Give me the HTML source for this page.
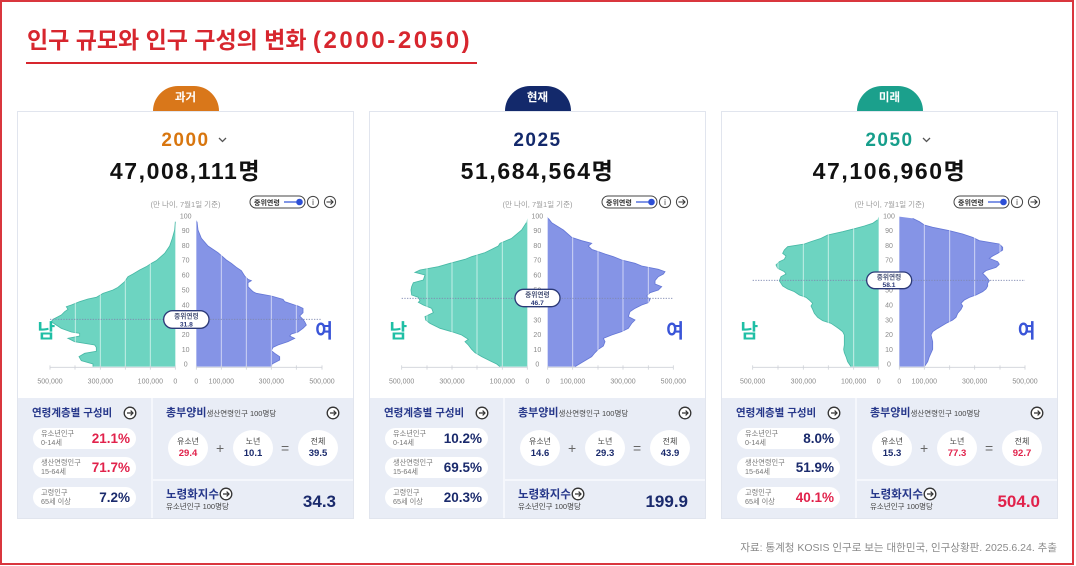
<!DOCTYPE html>
<html lang="ko">
<head>
<meta charset="utf-8">
<style>
*{margin:0;padding:0;box-sizing:border-box}
html,body{width:1076px;height:566px;overflow:hidden;background:#fff}
body{position:relative;font-family:"Liberation Sans","Noto Sans CJK KR",sans-serif;color:#222}
.a{position:absolute}
.frame{left:0;top:0;width:1074px;height:565px;border:2px solid #d9363e}
.title{left:27px;top:29px;font-size:23px;line-height:23px;font-weight:bold;color:#d7262e;white-space:nowrap}
.title span{font-size:24px;letter-spacing:2.6px}
.uline{left:26px;top:62px;width:451px;height:2px;background:#d7262e}
.c{position:absolute;top:0;width:337px;height:566px}
.box{left:0;top:111px;width:337px;height:408px;border:1px solid #e1e5ee;background:#fff}
.panel{left:1px;top:398px;width:335px;height:120px;background:#e9edf6}
.vsep{left:134px;top:398px;width:2px;height:120px;background:#f5f7fc}
.hsep{left:136px;top:479px;width:200px;height:2px;background:#f5f7fc}
.badge{left:135.5px;top:86px;width:66px;height:25px;border-radius:33px 33px 0 0;color:#fff;font-size:11.5px;font-weight:bold;text-align:center;line-height:25px}
.year{left:0;width:337px;top:131px;text-align:center;font-size:19px;line-height:19px;font-weight:bold;letter-spacing:1.5px}
.big{left:0;width:337px;top:160px;text-align:center;font-size:23px;line-height:23px;font-weight:bold;letter-spacing:1.6px;color:#111}
.sub{left:0;width:337px;top:201px;text-align:center;font-size:7.5px;line-height:8px;color:#9a9a9a}
.h1{left:15px;top:408px;font-size:10.5px;line-height:11px;font-weight:bold;color:#26378a;white-space:nowrap}
.pill{left:16px;width:103px;height:21px;border-radius:11px;background:#fff;display:flex;align-items:center;justify-content:space-between;padding:0 6px 0 8px}
.pl{font-size:7.2px;line-height:8.5px;color:#777;white-space:nowrap}
.pv{font-size:13.5px;font-weight:bold;line-height:14px;white-space:nowrap}
.red{color:#e1224b}
.nav{color:#1a2a6c}
.h2{left:149px;top:408px;font-size:11px;line-height:11px;font-weight:bold;color:#26378a;white-space:nowrap}
.h2 small{font-size:7.5px;font-weight:normal;color:#444}
.circ{top:430px;width:40px;height:36px;border-radius:50%;background:#fff;text-align:center}
.cl{display:block;font-size:8px;line-height:9px;color:#444;margin-top:7px}
.cv{display:block;font-size:9.5px;line-height:11px;font-weight:bold;margin-top:2px}
.op{top:441px;font-size:14px;line-height:14px;color:#666}
.h3{left:149px;top:488.5px;font-size:11.5px;line-height:12px;font-weight:bold;color:#26378a;white-space:nowrap}
.h3s{left:149px;top:502.5px;font-size:7.5px;line-height:8px;color:#444;white-space:nowrap}
.val{right:18px;top:492.5px;font-size:17px;line-height:17px;font-weight:bold;text-align:right}
.src{right:19px;top:543px;font-size:10.5px;line-height:11px;color:#8a8a8a;white-space:nowrap}
svg text{font-family:"Liberation Sans","Noto Sans CJK KR",sans-serif}
</style>
</head>
<body>
<div class="a frame"></div>
<div class="a title">인구 규모와 인구 구성의 변화 <span>(2000-2050)</span></div>
<div class="a uline"></div>

<!-- ============ CARD 1 ============ -->
<div class="c" style="left:17px">
  <div class="a box"></div>
  <div class="a badge" style="background:#d9771a">과거</div>
  <div class="a year" style="color:#d8760f">2000</div>
  <svg class="a" style="left:201px;top:137px" width="9" height="6" viewBox="0 0 9 6"><polyline points="1,1 4.5,4.5 8,1" fill="none" stroke="#555" stroke-width="1.3"/></svg>
  <div class="a big">47,008,111명</div>
  <div class="a sub">(만 나이, 7월1일 기준)</div>
  <svg class="a" style="left:232px;top:195px" width="90" height="14" viewBox="0 0 90 14">
    <rect x="1" y="1" width="55" height="12" rx="6" fill="#fff" stroke="#444" stroke-width="1"/>
    <text x="5" y="10" font-size="7" font-weight="bold" fill="#333">중위연령</text>
    <line x1="35" y1="7" x2="49" y2="7" stroke="#2d4fd6" stroke-width="1.2"/>
    <circle cx="50.5" cy="7" r="3.3" fill="#2d4fd6"/>
    <circle cx="64" cy="7" r="5.6" fill="#fff" stroke="#444" stroke-width="1"/>
    <text x="64" y="10" font-size="8" text-anchor="middle" fill="#333">i</text>
    <circle cx="81" cy="7" r="5.6" fill="#fff" stroke="#444" stroke-width="1"/>
    <path d="M77.5 7 H84 M81.5 4.5 L84 7 L81.5 9.5" fill="none" stroke="#333" stroke-width="1.1"/>
  </svg>
  <div class="a panel"></div>
  <div class="a vsep"></div>
  <div class="a hsep"></div>
  <div class="a h1">연령계층별 구성비</div>
  <svg class="a" style="left:106px;top:406px" width="14" height="14" viewBox="0 0 14 14"><circle cx="7" cy="7" r="5.8" fill="#fff" stroke="#333" stroke-width="1.3"/><path d="M4 7 H10 M7.6 4.6 L10 7 L7.6 9.4" fill="none" stroke="#333" stroke-width="1.2"/></svg>
  <div class="a pill" style="top:428px"><div class="pl">유소년인구<br>0-14세</div><div class="pv red">21.1%</div></div>
  <div class="a pill" style="top:457px"><div class="pl">생산연령인구<br>15-64세</div><div class="pv red">71.7%</div></div>
  <div class="a pill" style="top:487px"><div class="pl">고령인구<br>65세 이상</div><div class="pv nav">7.2%</div></div>
  <div class="a h2">총부양비<small>생산연령인구 100명당</small></div>
  <svg class="a" style="left:309px;top:406px" width="14" height="14" viewBox="0 0 14 14"><circle cx="7" cy="7" r="5.8" fill="#fff" stroke="#333" stroke-width="1.3"/><path d="M4 7 H10 M7.6 4.6 L10 7 L7.6 9.4" fill="none" stroke="#333" stroke-width="1.2"/></svg>
  <div class="a circ" style="left:151px"><span class="cl">유소년</span><span class="cv red">29.4</span></div>
  <div class="a op" style="left:199px">+</div>
  <div class="a circ" style="left:216px"><span class="cl">노년</span><span class="cv nav">10.1</span></div>
  <div class="a op" style="left:264px">=</div>
  <div class="a circ" style="left:281px"><span class="cl">전체</span><span class="cv nav">39.5</span></div>
  <div class="a h3">노령화지수</div>
  <svg class="a" style="left:202px;top:487px" width="14" height="14" viewBox="0 0 14 14"><circle cx="7" cy="7" r="5.8" fill="#fff" stroke="#333" stroke-width="1.3"/><path d="M4 7 H10 M7.6 4.6 L10 7 L7.6 9.4" fill="none" stroke="#333" stroke-width="1.2"/></svg>
  <div class="a h3s">유소년인구 100명당</div>
  <div class="a val nav">34.3</div>
</div>

<!-- ============ CARD 2 ============ -->
<div class="c" style="left:369px">
  <div class="a box"></div>
  <div class="a badge" style="background:#13296b">현재</div>
  <div class="a year" style="color:#13296b">2025</div>
  <div class="a big">51,684,564명</div>
  <div class="a sub">(만 나이, 7월1일 기준)</div>
  <svg class="a" style="left:232px;top:195px" width="90" height="14" viewBox="0 0 90 14">
    <rect x="1" y="1" width="55" height="12" rx="6" fill="#fff" stroke="#444" stroke-width="1"/>
    <text x="5" y="10" font-size="7" font-weight="bold" fill="#333">중위연령</text>
    <line x1="35" y1="7" x2="49" y2="7" stroke="#2d4fd6" stroke-width="1.2"/>
    <circle cx="50.5" cy="7" r="3.3" fill="#2d4fd6"/>
    <circle cx="64" cy="7" r="5.6" fill="#fff" stroke="#444" stroke-width="1"/>
    <text x="64" y="10" font-size="8" text-anchor="middle" fill="#333">i</text>
    <circle cx="81" cy="7" r="5.6" fill="#fff" stroke="#444" stroke-width="1"/>
    <path d="M77.5 7 H84 M81.5 4.5 L84 7 L81.5 9.5" fill="none" stroke="#333" stroke-width="1.1"/>
  </svg>
  <div class="a panel"></div>
  <div class="a vsep"></div>
  <div class="a hsep"></div>
  <div class="a h1">연령계층별 구성비</div>
  <svg class="a" style="left:106px;top:406px" width="14" height="14" viewBox="0 0 14 14"><circle cx="7" cy="7" r="5.8" fill="#fff" stroke="#333" stroke-width="1.3"/><path d="M4 7 H10 M7.6 4.6 L10 7 L7.6 9.4" fill="none" stroke="#333" stroke-width="1.2"/></svg>
  <div class="a pill" style="top:428px"><div class="pl">유소년인구<br>0-14세</div><div class="pv nav">10.2%</div></div>
  <div class="a pill" style="top:457px"><div class="pl">생산연령인구<br>15-64세</div><div class="pv nav">69.5%</div></div>
  <div class="a pill" style="top:487px"><div class="pl">고령인구<br>65세 이상</div><div class="pv nav">20.3%</div></div>
  <div class="a h2">총부양비<small>생산연령인구 100명당</small></div>
  <svg class="a" style="left:309px;top:406px" width="14" height="14" viewBox="0 0 14 14"><circle cx="7" cy="7" r="5.8" fill="#fff" stroke="#333" stroke-width="1.3"/><path d="M4 7 H10 M7.6 4.6 L10 7 L7.6 9.4" fill="none" stroke="#333" stroke-width="1.2"/></svg>
  <div class="a circ" style="left:151px"><span class="cl">유소년</span><span class="cv nav">14.6</span></div>
  <div class="a op" style="left:199px">+</div>
  <div class="a circ" style="left:216px"><span class="cl">노년</span><span class="cv nav">29.3</span></div>
  <div class="a op" style="left:264px">=</div>
  <div class="a circ" style="left:281px"><span class="cl">전체</span><span class="cv nav">43.9</span></div>
  <div class="a h3">노령화지수</div>
  <svg class="a" style="left:202px;top:487px" width="14" height="14" viewBox="0 0 14 14"><circle cx="7" cy="7" r="5.8" fill="#fff" stroke="#333" stroke-width="1.3"/><path d="M4 7 H10 M7.6 4.6 L10 7 L7.6 9.4" fill="none" stroke="#333" stroke-width="1.2"/></svg>
  <div class="a h3s">유소년인구 100명당</div>
  <div class="a val nav">199.9</div>
</div>

<!-- ============ CARD 3 ============ -->
<div class="c" style="left:721px">
  <div class="a box"></div>
  <div class="a badge" style="background:#1ba08c">미래</div>
  <div class="a year" style="color:#169e8b">2050</div>
  <svg class="a" style="left:201px;top:137px" width="9" height="6" viewBox="0 0 9 6"><polyline points="1,1 4.5,4.5 8,1" fill="none" stroke="#555" stroke-width="1.3"/></svg>
  <div class="a big">47,106,960명</div>
  <div class="a sub">(만 나이, 7월1일 기준)</div>
  <svg class="a" style="left:232px;top:195px" width="90" height="14" viewBox="0 0 90 14">
    <rect x="1" y="1" width="55" height="12" rx="6" fill="#fff" stroke="#444" stroke-width="1"/>
    <text x="5" y="10" font-size="7" font-weight="bold" fill="#333">중위연령</text>
    <line x1="35" y1="7" x2="49" y2="7" stroke="#2d4fd6" stroke-width="1.2"/>
    <circle cx="50.5" cy="7" r="3.3" fill="#2d4fd6"/>
    <circle cx="64" cy="7" r="5.6" fill="#fff" stroke="#444" stroke-width="1"/>
    <text x="64" y="10" font-size="8" text-anchor="middle" fill="#333">i</text>
    <circle cx="81" cy="7" r="5.6" fill="#fff" stroke="#444" stroke-width="1"/>
    <path d="M77.5 7 H84 M81.5 4.5 L84 7 L81.5 9.5" fill="none" stroke="#333" stroke-width="1.1"/>
  </svg>
  <div class="a panel"></div>
  <div class="a vsep"></div>
  <div class="a hsep"></div>
  <div class="a h1">연령계층별 구성비</div>
  <svg class="a" style="left:106px;top:406px" width="14" height="14" viewBox="0 0 14 14"><circle cx="7" cy="7" r="5.8" fill="#fff" stroke="#333" stroke-width="1.3"/><path d="M4 7 H10 M7.6 4.6 L10 7 L7.6 9.4" fill="none" stroke="#333" stroke-width="1.2"/></svg>
  <div class="a pill" style="top:428px"><div class="pl">유소년인구<br>0-14세</div><div class="pv nav">8.0%</div></div>
  <div class="a pill" style="top:457px"><div class="pl">생산연령인구<br>15-64세</div><div class="pv nav">51.9%</div></div>
  <div class="a pill" style="top:487px"><div class="pl">고령인구<br>65세 이상</div><div class="pv red">40.1%</div></div>
  <div class="a h2">총부양비<small>생산연령인구 100명당</small></div>
  <svg class="a" style="left:309px;top:406px" width="14" height="14" viewBox="0 0 14 14"><circle cx="7" cy="7" r="5.8" fill="#fff" stroke="#333" stroke-width="1.3"/><path d="M4 7 H10 M7.6 4.6 L10 7 L7.6 9.4" fill="none" stroke="#333" stroke-width="1.2"/></svg>
  <div class="a circ" style="left:151px"><span class="cl">유소년</span><span class="cv nav">15.3</span></div>
  <div class="a op" style="left:199px">+</div>
  <div class="a circ" style="left:216px"><span class="cl">노년</span><span class="cv red">77.3</span></div>
  <div class="a op" style="left:264px">=</div>
  <div class="a circ" style="left:281px"><span class="cl">전체</span><span class="cv red">92.7</span></div>
  <div class="a h3">노령화지수</div>
  <svg class="a" style="left:202px;top:487px" width="14" height="14" viewBox="0 0 14 14"><circle cx="7" cy="7" r="5.8" fill="#fff" stroke="#333" stroke-width="1.3"/><path d="M4 7 H10 M7.6 4.6 L10 7 L7.6 9.4" fill="none" stroke="#333" stroke-width="1.2"/></svg>
  <div class="a h3s">유소년인구 100명당</div>
  <div class="a val red">504.0</div>
</div>

<!-- ============ PYRAMID 1 ============ -->
<svg class="a" style="left:18px;top:210px" width="340" height="190" viewBox="0 0 1020 570">
  <polygon fill="#6dd4c1" points="472,470 225,470 225,462 190,452 183,440 200,430 235,424 235,412 230,405 170,395 150,385 185,378 185,370 160,366 130,355 110,342 100,335 105,328 130,315 140,305 150,298 145,290 160,285 185,275 210,267 235,262 255,250 285,240 300,232 320,215 330,200 345,192 365,180 385,170 400,160 415,152 440,130 455,108 463,85 470,60 472,35 472,30"/>
  <polyline fill="none" stroke="#48b9a6" stroke-width="2.5" points="225,470 225,462 190,452 183,440 200,430 235,424 235,412 230,405 170,395 150,385 185,378 185,370 160,366 130,355 110,342 100,335 105,328 130,315 140,305 150,298 145,290 160,285 185,275 210,267 235,262 255,250 285,240 300,232 320,215 330,200 345,192 365,180 385,170 400,160 415,152 440,130 455,108 463,85 470,60 472,35"/>
  <polygon fill="#8594e6" points="535,470 760,470 762,462 785,450 785,440 770,430 760,422 765,412 780,405 810,395 830,385 815,378 820,372 840,366 855,355 865,345 860,335 855,328 845,318 855,308 855,295 840,288 830,285 800,275 795,268 760,258 715,250 705,245 700,240 690,230 690,218 700,212 690,208 680,198 670,182 655,172 640,160 625,150 600,128 570,108 550,85 540,60 537,35 535,30"/>
  <polyline fill="none" stroke="#6577d6" stroke-width="2.5" points="760,470 762,462 785,450 785,440 770,430 760,422 765,412 780,405 810,395 830,385 815,378 820,372 840,366 855,355 865,345 860,335 855,328 845,318 855,308 855,295 840,288 830,285 800,275 795,268 760,258 715,250 705,245 700,240 690,230 690,218 700,212 690,208 680,198 670,182 655,172 640,160 625,150 600,128 570,108 550,85 540,60 537,35"/>
  <g stroke="#fff" stroke-opacity="0.6" stroke-width="3">
    <line x1="397" y1="22" x2="397" y2="470"/><line x1="322" y1="22" x2="322" y2="470"/><line x1="247" y1="22" x2="247" y2="470"/><line x1="172" y1="22" x2="172" y2="470"/>
    <line x1="610" y1="22" x2="610" y2="470"/><line x1="685" y1="22" x2="685" y2="470"/><line x1="760" y1="22" x2="760" y2="470"/><line x1="835" y1="22" x2="835" y2="470"/>
  </g>
  <g stroke="#cfd2d8" stroke-width="2.5">
    <line x1="96" y1="472" x2="472" y2="472"/><line x1="535" y1="472" x2="912" y2="472"/>
    <line x1="96" y1="466" x2="96" y2="479"/><line x1="171" y1="466" x2="171" y2="479"/><line x1="247" y1="466" x2="247" y2="479"/><line x1="322" y1="466" x2="322" y2="479"/><line x1="397" y1="466" x2="397" y2="479"/><line x1="472" y1="466" x2="472" y2="479"/>
    <line x1="535" y1="466" x2="535" y2="479"/><line x1="610" y1="466" x2="610" y2="479"/><line x1="685" y1="466" x2="685" y2="479"/><line x1="760" y1="466" x2="760" y2="479"/><line x1="835" y1="466" x2="835" y2="479"/><line x1="912" y1="466" x2="912" y2="479"/>
  </g>
  <g font-size="21" fill="#8a8a8a" text-anchor="middle">
    <text x="96" y="521">500,000</text><text x="247" y="521">300,000</text><text x="397" y="521">100,000</text><text x="472" y="521">0</text>
    <text x="535" y="521">0</text><text x="610" y="521">100,000</text><text x="760" y="521">300,000</text><text x="912" y="521">500,000</text>
  </g>
  <g font-size="21" fill="#8a8a8a" text-anchor="middle">
    <text x="503" y="470">0</text><text x="503" y="426">10</text><text x="503" y="381">20</text><text x="503" y="337">30</text><text x="503" y="292">40</text><text x="503" y="247">50</text><text x="503" y="203">60</text><text x="503" y="158">70</text><text x="503" y="114">80</text><text x="503" y="69">90</text><text x="503" y="25">100</text>
  </g>
  <line x1="96" y1="328" x2="912" y2="328" stroke="#7f88b0" stroke-width="2.5" stroke-dasharray="4 4"/>
  <rect x="437" y="302" width="136" height="53" rx="26.5" fill="#fff" stroke="#2c3a78" stroke-width="4"/>
  <text x="505" y="326" font-size="20" font-weight="bold" fill="#4a5478" text-anchor="middle">중위연령</text>
  <text x="505" y="350" font-size="20" font-weight="bold" fill="#2c3a78" text-anchor="middle">31.8</text>
  <text x="85" y="382" font-size="58" font-weight="bold" fill="#1fbfa5" text-anchor="middle">남</text>
  <text x="918" y="382" font-size="58" font-weight="bold" fill="#3a55d8" text-anchor="middle">여</text>
</svg>

<!-- ============ PYRAMID 2 ============ -->
<svg class="a" style="left:365px;top:210px" width="345" height="190" viewBox="0 0 1035 570">
  <polygon fill="#6dd4c1" points="487,470 405,470 395,462 380,455 350,440 330,428 320,418 310,405 300,395 310,388 290,375 260,365 225,355 195,340 182,330 180,320 205,308 200,295 175,285 160,277 165,272 160,262 140,255 138,240 140,230 145,218 175,210 180,195 150,187 165,180 220,170 255,160 300,148 320,140 360,128 380,118 400,108 405,100 440,85 470,60 484,38 487,25"/>
  <polyline fill="none" stroke="#48b9a6" stroke-width="2.5" points="405,470 395,462 380,455 350,440 330,428 320,418 310,405 300,395 310,388 290,375 260,365 225,355 195,340 182,330 180,320 205,308 200,295 175,285 160,277 165,272 160,262 140,255 138,240 140,230 145,218 175,210 180,195 150,187 165,180 220,170 255,160 300,148 320,140 360,128 380,118 400,108 405,100 440,85 470,60 484,38"/>
  <polygon fill="#8594e6" points="548,470 630,470 650,458 680,440 690,428 700,418 715,408 720,395 715,385 740,375 770,365 790,355 800,340 810,330 790,320 795,305 810,295 830,285 850,278 855,268 845,258 855,248 880,240 890,230 870,222 870,212 880,200 895,192 900,185 880,178 830,168 810,160 770,150 745,140 720,132 700,125 680,118 670,108 680,100 650,92 620,82 595,60 560,38 550,25 548,20"/>
  <polyline fill="none" stroke="#6577d6" stroke-width="2.5" points="630,470 650,458 680,440 690,428 700,418 715,408 720,395 715,385 740,375 770,365 790,355 800,340 810,330 790,320 795,305 810,295 830,285 850,278 855,268 845,258 855,248 880,240 890,230 870,222 870,212 880,200 895,192 900,185 880,178 830,168 810,160 770,150 745,140 720,132 700,125 680,118 670,108 680,100 650,92 620,82 595,60 560,38 550,25"/>
  <g stroke="#fff" stroke-opacity="0.6" stroke-width="3">
    <line x1="412" y1="22" x2="412" y2="470"/><line x1="336" y1="22" x2="336" y2="470"/><line x1="261" y1="22" x2="261" y2="470"/><line x1="186" y1="22" x2="186" y2="470"/>
    <line x1="623" y1="22" x2="623" y2="470"/><line x1="699" y1="22" x2="699" y2="470"/><line x1="774" y1="22" x2="774" y2="470"/><line x1="850" y1="22" x2="850" y2="470"/>
  </g>
  <g stroke="#cfd2d8" stroke-width="2.5">
    <line x1="110" y1="472" x2="487" y2="472"/><line x1="548" y1="472" x2="925" y2="472"/>
    <line x1="110" y1="466" x2="110" y2="479"/><line x1="186" y1="466" x2="186" y2="479"/><line x1="261" y1="466" x2="261" y2="479"/><line x1="336" y1="466" x2="336" y2="479"/><line x1="412" y1="466" x2="412" y2="479"/><line x1="487" y1="466" x2="487" y2="479"/>
    <line x1="548" y1="466" x2="548" y2="479"/><line x1="623" y1="466" x2="623" y2="479"/><line x1="699" y1="466" x2="699" y2="479"/><line x1="774" y1="466" x2="774" y2="479"/><line x1="850" y1="466" x2="850" y2="479"/><line x1="925" y1="466" x2="925" y2="479"/>
  </g>
  <g font-size="21" fill="#8a8a8a" text-anchor="middle">
    <text x="110" y="521">500,000</text><text x="261" y="521">300,000</text><text x="412" y="521">100,000</text><text x="487" y="521">0</text>
    <text x="548" y="521">0</text><text x="623" y="521">100,000</text><text x="774" y="521">300,000</text><text x="925" y="521">500,000</text>
  </g>
  <g font-size="21" fill="#8a8a8a" text-anchor="middle">
    <text x="517" y="470">0</text><text x="517" y="426">10</text><text x="517" y="381">20</text><text x="517" y="337">30</text><text x="517" y="292">40</text><text x="517" y="247">50</text><text x="517" y="203">60</text><text x="517" y="158">70</text><text x="517" y="114">80</text><text x="517" y="69">90</text><text x="517" y="25">100</text>
  </g>
  <line x1="110" y1="265" x2="925" y2="265" stroke="#7f88b0" stroke-width="2.5" stroke-dasharray="4 4"/>
  <rect x="450" y="238" width="135" height="52" rx="26" fill="#fff" stroke="#2c3a78" stroke-width="4"/>
  <text x="517" y="261" font-size="20" font-weight="bold" fill="#4a5478" text-anchor="middle">중위연령</text>
  <text x="517" y="285" font-size="20" font-weight="bold" fill="#2c3a78" text-anchor="middle">46.7</text>
  <text x="100" y="382" font-size="58" font-weight="bold" fill="#1fbfa5" text-anchor="middle">남</text>
  <text x="930" y="382" font-size="58" font-weight="bold" fill="#3a55d8" text-anchor="middle">여</text>
</svg>

<!-- ============ PYRAMID 3 ============ -->
<svg class="a" style="left:716px;top:210px" width="345" height="190" viewBox="0 0 1035 570">
  <polygon fill="#6dd4c1" points="488,470 405,470 395,455 390,440 385,428 383,418 385,405 385,375 380,365 370,357 360,350 345,340 320,332 305,322 295,310 290,298 285,288 290,280 280,270 270,262 250,255 235,245 215,237 200,228 195,220 190,212 195,200 210,192 205,185 185,175 180,165 190,155 205,148 210,138 200,130 205,120 215,110 265,102 285,95 315,85 335,75 380,65 420,55 445,48 470,40 484,30 488,20"/>
  <polyline fill="none" stroke="#48b9a6" stroke-width="2.5" points="405,470 395,455 390,440 385,428 383,418 385,405 385,375 380,365 370,357 360,350 345,340 320,332 305,322 295,310 290,298 285,288 290,280 280,270 270,262 250,255 235,245 215,237 200,228 195,220 190,212 195,200 210,192 205,185 185,175 180,165 190,155 205,148 210,138 200,130 205,120 215,110 265,102 285,95 315,85 335,75 380,65 420,55 445,48 470,40 484,30"/>
  <polygon fill="#8594e6" points="550,470 625,470 635,455 640,440 650,418 650,395 645,375 650,365 665,355 690,340 710,330 720,322 725,310 735,298 740,288 735,280 745,270 760,262 780,255 800,245 810,237 815,228 815,220 820,212 810,200 800,190 810,182 840,172 850,163 845,155 820,145 830,138 845,130 860,120 860,112 850,102 790,92 770,82 740,72 700,62 650,52 625,45 610,35 590,25 550,20"/>
  <polyline fill="none" stroke="#6577d6" stroke-width="2.5" points="625,470 635,455 640,440 650,418 650,395 645,375 650,365 665,355 690,340 710,330 720,322 725,310 735,298 740,288 735,280 745,270 760,262 780,255 800,245 810,237 815,228 815,220 820,212 810,200 800,190 810,182 840,172 850,163 845,155 820,145 830,138 845,130 860,120 860,112 850,102 790,92 770,82 740,72 700,62 650,52 625,45 610,35 590,25"/>
  <g stroke="#fff" stroke-opacity="0.6" stroke-width="3">
    <line x1="413" y1="22" x2="413" y2="470"/><line x1="337" y1="22" x2="337" y2="470"/><line x1="262" y1="22" x2="262" y2="470"/><line x1="186" y1="22" x2="186" y2="470"/>
    <line x1="625" y1="22" x2="625" y2="470"/><line x1="701" y1="22" x2="701" y2="470"/><line x1="776" y1="22" x2="776" y2="470"/><line x1="852" y1="22" x2="852" y2="470"/>
  </g>
  <g stroke="#cfd2d8" stroke-width="2.5">
    <line x1="110" y1="472" x2="488" y2="472"/><line x1="550" y1="472" x2="927" y2="472"/>
    <line x1="110" y1="466" x2="110" y2="479"/><line x1="186" y1="466" x2="186" y2="479"/><line x1="262" y1="466" x2="262" y2="479"/><line x1="337" y1="466" x2="337" y2="479"/><line x1="413" y1="466" x2="413" y2="479"/><line x1="488" y1="466" x2="488" y2="479"/>
    <line x1="550" y1="466" x2="550" y2="479"/><line x1="625" y1="466" x2="625" y2="479"/><line x1="701" y1="466" x2="701" y2="479"/><line x1="776" y1="466" x2="776" y2="479"/><line x1="852" y1="466" x2="852" y2="479"/><line x1="927" y1="466" x2="927" y2="479"/>
  </g>
  <g font-size="21" fill="#8a8a8a" text-anchor="middle">
    <text x="110" y="521">500,000</text><text x="262" y="521">300,000</text><text x="413" y="521">100,000</text><text x="488" y="521">0</text>
    <text x="550" y="521">0</text><text x="625" y="521">100,000</text><text x="776" y="521">300,000</text><text x="927" y="521">500,000</text>
  </g>
  <g font-size="21" fill="#8a8a8a" text-anchor="middle">
    <text x="519" y="470">0</text><text x="519" y="426">10</text><text x="519" y="381">20</text><text x="519" y="337">30</text><text x="519" y="292">40</text><text x="519" y="247">50</text><text x="519" y="203">60</text><text x="519" y="158">70</text><text x="519" y="114">80</text><text x="519" y="69">90</text><text x="519" y="25">100</text>
  </g>
  <line x1="110" y1="211" x2="927" y2="211" stroke="#7f88b0" stroke-width="2.5" stroke-dasharray="4 4"/>
  <rect x="452" y="186" width="135" height="50" rx="25" fill="#fff" stroke="#2c3a78" stroke-width="4"/>
  <text x="519" y="208" font-size="20" font-weight="bold" fill="#4a5478" text-anchor="middle">중위연령</text>
  <text x="519" y="231" font-size="20" font-weight="bold" fill="#2c3a78" text-anchor="middle">58.1</text>
  <text x="100" y="382" font-size="58" font-weight="bold" fill="#1fbfa5" text-anchor="middle">남</text>
  <text x="932" y="382" font-size="58" font-weight="bold" fill="#3a55d8" text-anchor="middle">여</text>
</svg>

<div class="a src">자료: 통계청 KOSIS 인구로 보는 대한민국, 인구상황판. 2025.6.24. 추출</div>
</body>
</html>
